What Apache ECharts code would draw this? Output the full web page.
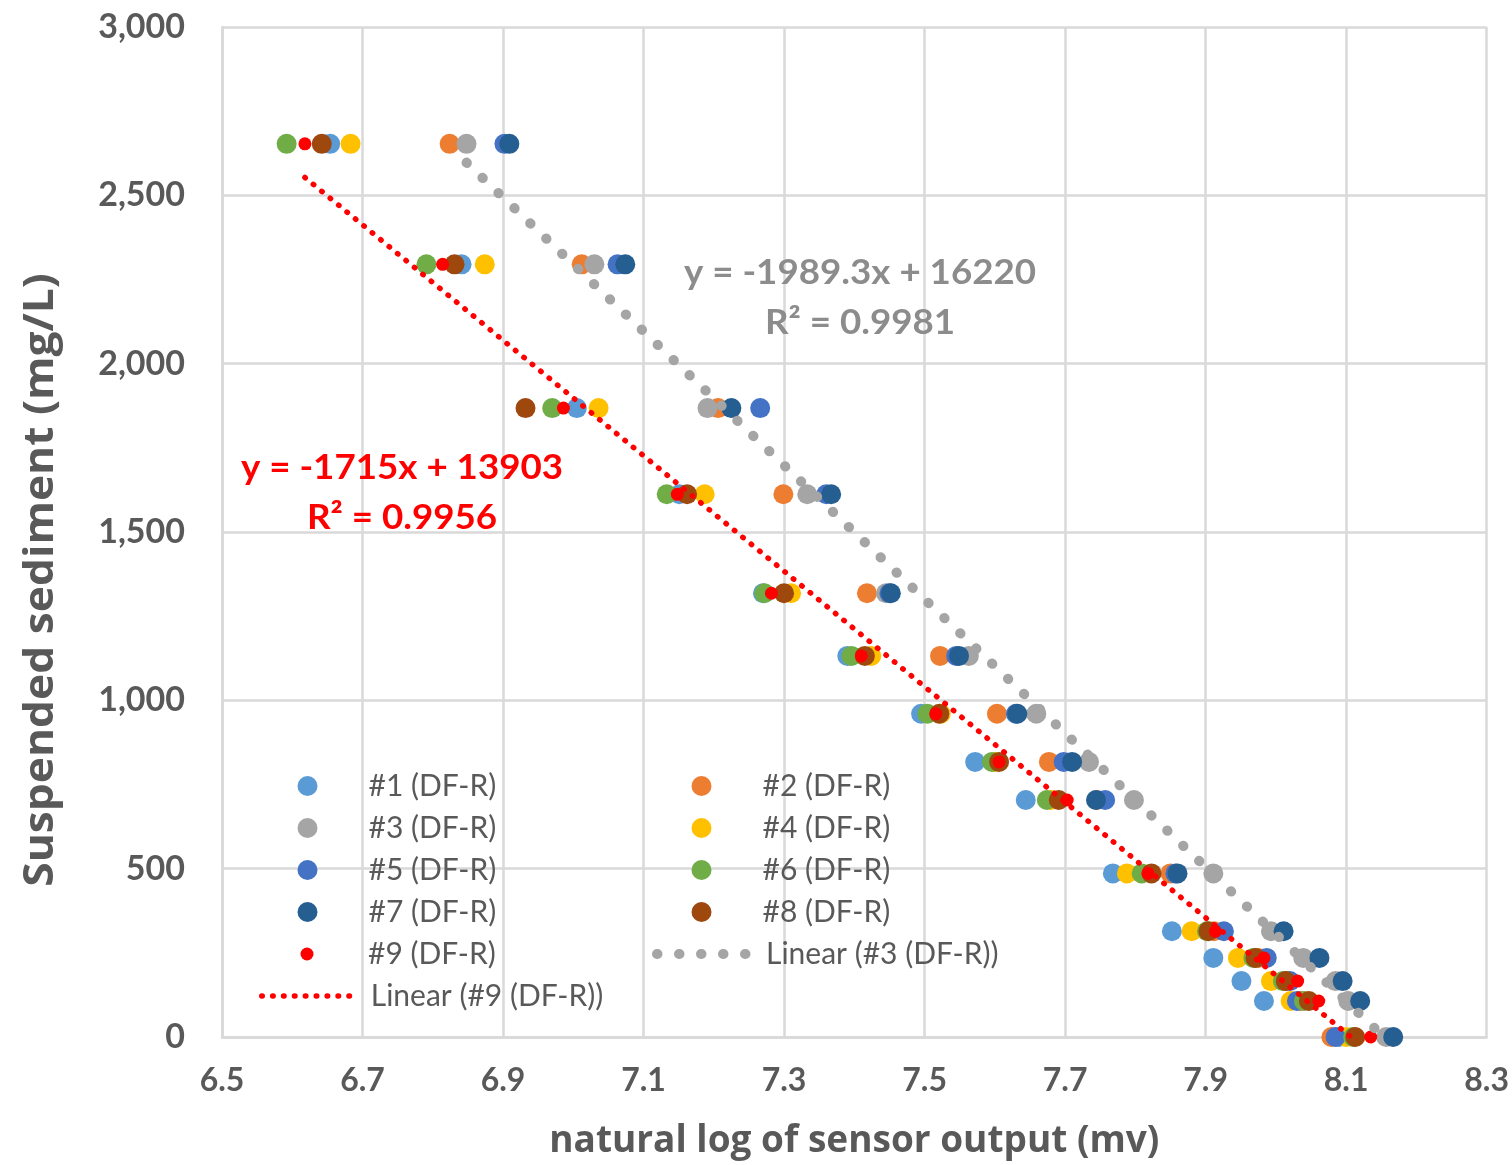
<!DOCTYPE html>
<html>
<head>
<meta charset="utf-8">
<script src="https://cdn.jsdelivr.net/npm/echarts@6/dist/echarts.min.js"></script>
<style>
html,body{margin:0;padding:0;background:#ffffff;}
#chart{width:1512px;height:1165px;}
</style>
</head>
<body>
<div id="chart"></div>
<script>
// ---- data ----
const sedimentLevels = [2653, 2295, 1868, 1612, 1318, 1132, 960, 817, 704, 486, 314, 235, 166, 107, 0];

const s1 = [6.654, 6.841, 7.005, 7.151, 7.270, 7.390, 7.495, 7.572, 7.644, 7.768, 7.852, 7.911, 7.951, 7.983, 8.090];
const s2 = [6.824, 7.012, 7.206, 7.299, 7.418, 7.522, 7.603, 7.677, 7.745, 7.850, 7.912, 7.975, 8.015, 8.035, 8.079];
const s3 = [6.848, 7.030, 7.191, 7.333, 7.445, 7.563, 7.659, 7.734, 7.798, 7.911, 7.993, 8.039, 8.085, 8.103, 8.157];
const s4 = [6.683, 6.874, 7.036, 7.187, 7.310, 7.424, 7.523, 7.600, 7.680, 7.788, 7.880, 7.946, 7.993, 8.021, 8.100];
const s5 = [6.902, 7.063, 7.266, 7.360, 7.450, 7.545, 7.630, 7.698, 7.757, 7.857, 7.926, 7.987, 8.020, 8.030, 8.085];
const s6 = [6.592, 6.791, 6.970, 7.133, 7.272, 7.396, 7.504, 7.596, 7.674, 7.809, 7.902, 7.968, 8.010, 8.040, 8.110];
const s7 = [6.909, 7.074, 7.225, 7.367, 7.452, 7.549, 7.632, 7.710, 7.744, 7.860, 8.011, 8.062, 8.095, 8.120, 8.167];
const s8 = [6.642, 6.831, 6.932, 7.162, 7.300, 7.415, 7.521, 7.606, 7.691, 7.823, 7.904, 7.971, 8.014, 8.047, 8.113];
const s9 = [6.618, 6.814, 6.986, 7.148, 7.282, 7.410, 7.516, 7.606, 7.703, 7.818, 7.914, 7.983, 8.031, 8.061, 8.135];

const seriesNames = ['#1 (DF-R)', '#2 (DF-R)', '#3 (DF-R)', '#4 (DF-R)', '#5 (DF-R)', '#6 (DF-R)', '#7 (DF-R)', '#8 (DF-R)', '#9 (DF-R)'];
const seriesX = [s1, s2, s3, s4, s5, s6, s7, s8, s9];

// trendline equations shown on the chart
const trend3Slope = -1989.3, trend3Intercept = 16220;
const trend9Slope = -1715, trend9Intercept = 13903;
const trend3Name = 'Linear (#3 (DF-R))';
const trend9Name = 'Linear (#9 (DF-R))';
const eq3Lines = ['y = -1989.3x + 16220', 'R² = 0.9981'];
const eq9Lines = ['y = -1715x + 13903', 'R² = 0.9956'];

const xAxisTitle = 'natural log of sensor output (mv)';
const yAxisTitle = 'Suspended sediment (mg/L)';

// ---- styles ----
const colors = ['#5B9BD5', '#ED7D31', '#A5A5A5', '#FFC000', '#4472C4', '#70AD47', '#255E91', '#9E480E', '#FF0000'];
const FONT = 'Lato, "Open Sans", "Liberation Sans", sans-serif';
const TXT = '#595959';
const trend3Style = {color: '#A5A5A5', width: 10, type: [0.5, 21.5], cap: 'round'};
const trend9Style = {color: '#FF0000', width: 5.5, type: [0.5, 10.4], cap: 'round'};

const chart = echarts.init(document.getElementById('chart'), null, {renderer: 'canvas'});

function pairs(xs) { return xs.map((x, i) => [x, sedimentLevels[i]]); }
function trendPoints(xs, slope, intercept) {
  const lo = Math.min(...xs), hi = Math.max(...xs);
  return [[lo, slope * lo + intercept], [hi, slope * hi + intercept]];
}

const series = seriesX.map((xs, i) => ({
  name: seriesNames[i],
  type: 'scatter',
  data: pairs(xs),
  symbol: 'circle',
  symbolSize: i === 8 ? 13 : 20,
  itemStyle: {color: colors[i], opacity: 1},
  z: 2 + i,
  silent: true
}));

series.push({
  name: trend3Name,
  type: 'line',
  data: trendPoints(s3, trend3Slope, trend3Intercept),
  symbol: 'none',
  showSymbol: false,
  z: 20,
  itemStyle: {color: 'rgba(0,0,0,0)'},
  lineStyle: trend3Style,
  silent: true
});
series.push({
  name: trend9Name,
  type: 'line',
  data: trendPoints(s9, trend9Slope, trend9Intercept),
  symbol: 'none',
  showSymbol: false,
  z: 21,
  itemStyle: {color: 'rgba(0,0,0,0)'},
  lineStyle: trend9Style,
  silent: true
});

// legend entries: [name, left, centerY, iconHeight, lineStyle]
const legendLayout = [
  [seriesNames[0], 297.5, 786, 20], [seriesNames[1], 691.5, 786, 20],
  [seriesNames[2], 297.5, 828, 20], [seriesNames[3], 691.5, 828, 20],
  [seriesNames[4], 297.5, 870, 20], [seriesNames[5], 691.5, 870, 20],
  [seriesNames[6], 297.5, 912, 20], [seriesNames[7], 691.5, 912, 20],
  [seriesNames[8], 300.5, 954, 13], [trend3Name, 652, 954, 20, trend3Style],
  [trend9Name, 259, 996, 20, trend9Style]
];
const LH = 34;
const legends = legendLayout.map(([name, left, cy, ih, ls]) => {
  const lg = {
    data: [name],
    left: left,
    top: cy - LH / 2,
    padding: 0,
    itemWidth: 96,
    itemHeight: ih,
    selectedMode: false,
    textStyle: {fontFamily: FONT, fontSize: 30, color: TXT, lineHeight: LH, padding: [0, 0, 0, 8]}
  };
  if (ls) {
    lg.lineStyle = ls;
    lg.itemStyle = {color: 'rgba(0,0,0,0)', opacity: 0};
  }
  return lg;
});

const eqText = (x, y, text, fill) => ({
  type: 'text', x: x, y: y, z: 50, scaleX: 1.08,
  style: {text: text, font: `bold 34px ${FONT}`, fill: fill, align: 'center', verticalAlign: 'middle'}
});

const option = {
  backgroundColor: '#ffffff',
  animation: false,
  grid: {left: 222, right: 25, top: 27, bottom: 125, containLabel: false},
  xAxis: {
    type: 'value',
    min: 6.5, max: 8.3, interval: 0.2,
    name: xAxisTitle,
    nameLocation: 'middle',
    nameGap: 86,
    nameTextStyle: {fontFamily: '"Open Sans", Lato, sans-serif', fontSize: 37, fontWeight: 'bold', color: TXT},
    axisLine: {show: true, lineStyle: {color: '#D9D9D9', width: 2.5}},
    axisTick: {show: false},
    splitLine: {show: true, lineStyle: {color: '#D9D9D9', width: 2.5}},
    axisLabel: {fontFamily: FONT, fontSize: 32, fontWeight: 'bold', color: TXT, margin: 28,
      formatter: v => v.toFixed(1)}
  },
  yAxis: {
    type: 'value',
    min: 0, max: 3000, interval: 500,
    axisLine: {show: true, lineStyle: {color: '#D9D9D9', width: 2.5}},
    axisTick: {show: false},
    splitLine: {show: true, lineStyle: {color: '#D9D9D9', width: 2.5}},
    axisLabel: {fontFamily: FONT, fontSize: 34, fontWeight: 'bold', color: TXT, margin: 37,
      formatter: v => v.toLocaleString('en-US')}
  },
  legend: legends,
  graphic: [
    {type: 'text', x: 41, y: 580, rotation: Math.PI / 2, z: 50, scaleX: 1.08,
      style: {text: yAxisTitle, font: `bold 41px "Open Sans", Lato, sans-serif`, fill: TXT, align: 'center', verticalAlign: 'middle'}},
    eqText(860, 273, eq3Lines[0], '#8C8C8C'),
    eqText(860, 323, eq3Lines[1], '#8C8C8C'),
    eqText(402, 468, eq9Lines[0], '#FF0000'),
    eqText(402, 518, eq9Lines[1], '#FF0000')
  ],
  series: series
};

chart.setOption(option);
</script>
</body>
</html>
